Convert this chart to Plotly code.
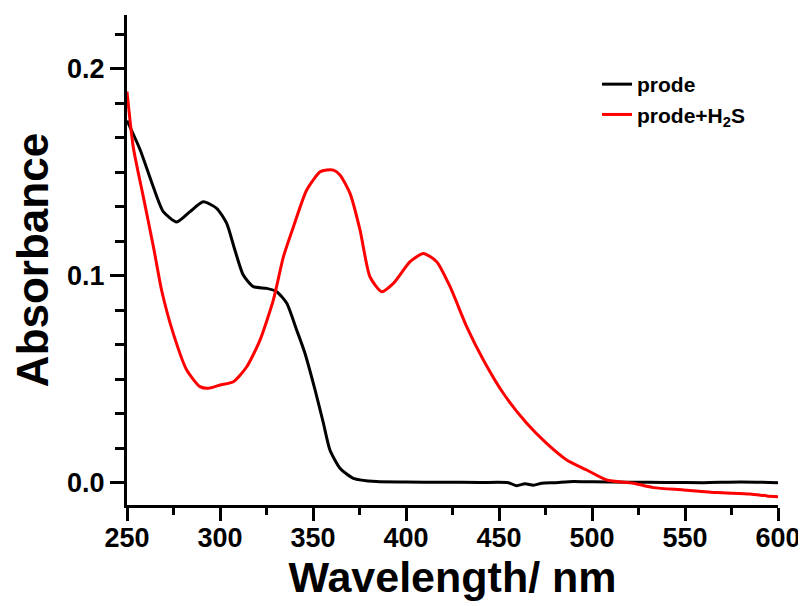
import plotly.graph_objects as go

# prode (black)
wl_prode = [250, 257, 264.1, 269.5, 276.7, 283.9, 291, 298.2, 303.6, 308, 312.5, 317.9,
            325.1, 330.5, 335.9, 341.2, 345.5, 351.1, 355.6, 359.1, 364.5, 371.7, 384.2,
            400, 420, 440, 455, 459.5, 464, 468.5, 473, 480, 490, 500, 520, 540, 560,
            580, 600]
abs_prode = [0.175, 0.161, 0.143, 0.131, 0.126, 0.131, 0.1357, 0.1326, 0.1253, 0.1124,
             0.1003, 0.0947, 0.0939, 0.0923, 0.0867, 0.0738, 0.0630, 0.0448, 0.0287,
             0.0158, 0.0070, 0.0021, 0.0005, 0.0003, 0.0002, 0.0001, 0.0, -0.0015,
             -0.0005, -0.0012, -0.0003, 0.0, 0.0006, 0.0004, 0.0002, 0.0001, 0.0,
             0.0003, 0.0]

# prode + H2S (red)
wl_h2s = [250, 253.4, 258.8, 264.2, 268.6, 274.9, 282.1, 289.2, 293.7, 300, 307.2,
          314.4, 321.5, 328.7, 334.1, 339.5, 346.6, 353.8, 357.4, 361, 364.5, 369.9,
          375.3, 380.6, 386.9, 393.2, 402.2, 409.3, 416.5, 423.7, 432.6, 441.6, 452.3,
          464.9, 475.6, 486.4, 497.2, 507.9, 522.3, 533, 549.1, 567, 585, 594, 600]
abs_h2s = [0.189, 0.162, 0.138, 0.114, 0.093, 0.072, 0.0544, 0.0464, 0.0456, 0.0472,
           0.0488, 0.056, 0.0689, 0.0883, 0.1092, 0.1237, 0.1414, 0.1502, 0.1511,
           0.1510, 0.1487, 0.1398, 0.1220, 0.0995, 0.0923, 0.0963, 0.1068, 0.1108,
           0.1068, 0.0947, 0.0754, 0.0593, 0.0432, 0.0287, 0.0190, 0.011, 0.0061,
           0.0013, -0.0003, -0.0024, -0.0035, -0.0048, -0.0055, -0.0064, -0.0068]

x_major = [250, 300, 350, 400, 450, 500, 550, 600]
y_major = [0.0, 0.1, 0.2]

FONT = "Liberation Sans"

fig = go.Figure()
fig.add_trace(go.Scatter(x=wl_prode, y=abs_prode, mode="lines", name="prode",
                         line=dict(color="black", width=3, shape="spline", smoothing=0.6)))
fig.add_trace(go.Scatter(x=wl_h2s, y=abs_h2s, mode="lines", name="prode+H<sub>2</sub>S",
                         line=dict(color="#ff0000", width=3, shape="spline", smoothing=0.6)))

fig.update_layout(
    width=798, height=598,
    margin=dict(l=119, r=28, t=7, b=101, autoexpand=False),
    paper_bgcolor="white", plot_bgcolor="white",
    font=dict(family=FONT, color="black"),
    showlegend=True,
    legend=dict(x=0.722, y=0.900, xanchor="left", yanchor="top",
                bgcolor="rgba(0,0,0,0)", borderwidth=0,
                font=dict(family=FONT, size=21, weight=700, color="black"),
                tracegroupgap=0),
    xaxis=dict(
        range=[250, 600], showline=True, linecolor="black", linewidth=3,
        mirror=False, showgrid=False, zeroline=False, automargin=False,
        tickmode="array", tickvals=x_major, ticktext=[str(v) for v in x_major],
        ticks="outside", ticklen=13, tickwidth=3, tickcolor="black",
        ticklabelstandoff=-6,
        tickfont=dict(family=FONT, size=27, weight=700, color="black"),
        minor=dict(dtick=25, tick0=250, ticks="outside", ticklen=7, tickwidth=3,
                   tickcolor="black", showgrid=False),
        title=dict(text="Wavelength/ nm", standoff=1,
                   font=dict(family=FONT, size=43, weight=700, color="black")),
    ),
    yaxis=dict(
        range=[-0.0108, 0.226], showline=True, linecolor="black", linewidth=3,
        mirror=False, showgrid=False, zeroline=False, automargin=False,
        tickmode="array", tickvals=y_major, ticktext=["%.1f" % v for v in y_major],
        ticks="outside", ticklen=14, tickwidth=3, tickcolor="black",
        tickfont=dict(family=FONT, size=27, weight=700, color="black"),
        minor=dict(dtick=0.1 / 6, tick0=0, ticks="outside", ticklen=9, tickwidth=3,
                   tickcolor="black", showgrid=False),
        title=dict(text="Absorbance", standoff=7,
                   font=dict(family=FONT, size=44, weight=700, color="black")),
    ),
)

fig.write_html("out.html")
